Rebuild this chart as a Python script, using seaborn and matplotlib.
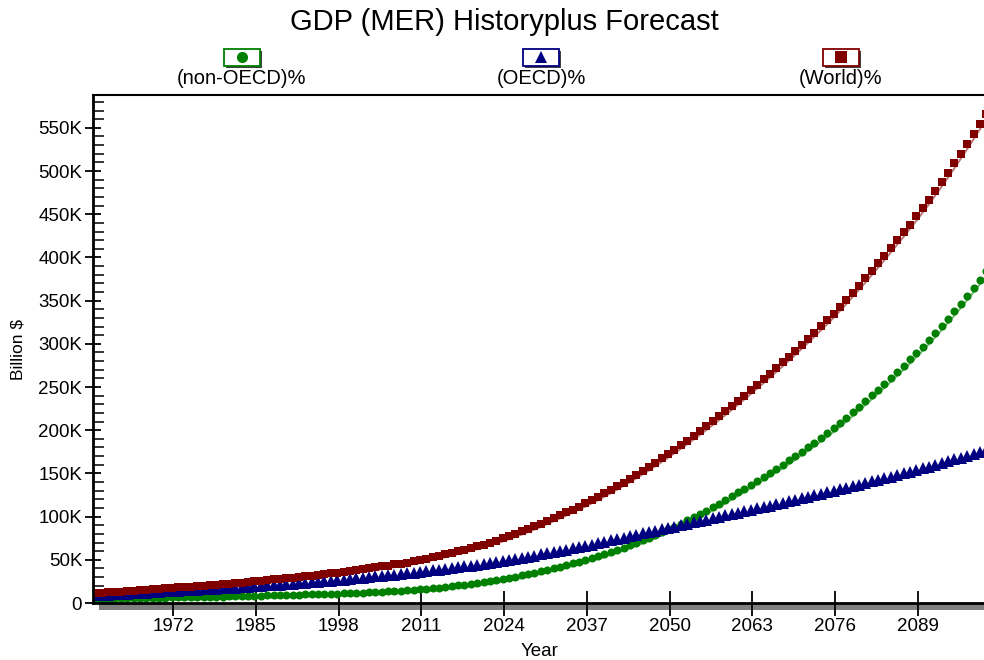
import pandas as pd
import matplotlib
matplotlib.use('Agg')
import matplotlib.pyplot as plt
import seaborn as sns
from matplotlib.patches import Rectangle
from matplotlib.lines import Line2D
from matplotlib.transforms import offset_copy
from matplotlib.ticker import FuncFormatter, MultipleLocator

# Years 1960..2100, one marker per year
years = list(range(1960, 2101))

# GDP (MER), billion $
non_oecd = [
    2.0, 2.1, 2.2, 2.3, 2.4, 2.5, 2.6, 2.7, 2.9, 3.0, 3.2, 3.3, 3.5,
    3.6, 3.8, 3.9, 4.0, 4.2, 4.3, 4.5, 4.6, 4.8, 4.9, 5.1, 5.3, 5.5,
    5.7, 5.9, 6.1, 6.3, 6.5, 6.6, 6.8, 7.0, 7.2, 7.4, 7.6, 7.8, 8.0,
    8.3, 8.6, 8.9, 9.2, 9.5, 9.9, 10.3, 10.7, 11.1, 11.5, 11.9, 12.4, 13.0,
    13.6, 14.3, 15.0, 15.8, 16.6, 17.4, 18.3, 19.2, 20.2, 21.2, 22.3, 23.5, 24.8,
    26.2, 27.6, 29.1, 30.6, 32.2, 33.9, 35.6, 37.4, 39.2, 41.1, 43.0, 45.0, 47.1,
    49.2, 51.4, 53.7, 56.1, 58.6, 61.2, 63.9, 66.7, 69.6, 72.6, 75.7, 78.9, 82.2,
    85.6, 89.1, 92.7, 96.4, 100.2, 104.1, 108.1, 112.2, 116.4, 120.7, 125.1, 129.6, 134.2,
    138.6, 143.1, 147.7, 152.4, 157.2, 162.1, 167.1, 172.2, 177.4, 182.7, 188.1, 193.6, 199.2,
    205.3, 211.5, 217.8, 224.2, 230.7, 237.3, 244.0, 250.8, 257.7, 264.7, 271.8, 279.0, 286.3,
    293.9, 301.7, 309.7, 317.9, 326.3, 334.9, 343.7, 352.7, 361.9, 371.3, 380.9,
]

oecd = [
    6.0, 6.4, 6.8, 7.2, 7.6, 8.0, 8.4, 8.8, 9.2, 9.6, 10.0, 10.5, 11.0,
    11.4, 11.7, 12.0, 12.4, 12.8, 13.2, 13.6, 14.0, 14.4, 14.8, 15.3, 15.8, 16.4,
    17.0, 17.5, 18.0, 18.5, 19.0, 19.5, 20.0, 20.6, 21.2, 21.8, 22.4, 23.0, 23.6,
    24.3, 25.0, 25.7, 26.4, 27.1, 27.8, 28.5, 29.2, 29.9, 30.6, 31.3, 32.2, 33.1,
    34.0, 34.9, 35.8, 36.7, 37.6, 38.5, 39.5, 40.5, 41.5, 42.5, 43.5, 44.6, 45.7,
    46.9, 48.1, 49.4, 50.7, 52.0, 53.4, 54.8, 56.2, 57.6, 59.0, 60.4, 61.8, 63.2,
    64.8, 66.4, 68.0, 69.6, 71.2, 72.8, 74.4, 76.0, 77.6, 79.2, 80.8, 82.4, 84.0,
    85.6, 87.2, 88.8, 90.4, 92.0, 93.6, 95.2, 96.8, 98.4, 100.0, 101.6, 103.2, 104.8,
    106.5, 108.2, 109.9, 111.6, 113.3, 115.0, 116.7, 118.4, 120.1, 121.8, 123.5, 125.2, 126.9,
    128.7, 130.5, 132.3, 134.1, 135.9, 137.8, 139.7, 141.6, 143.5, 145.4, 147.3, 149.2, 151.1,
    153.1, 155.1, 157.1, 159.1, 161.2, 163.3, 165.4, 167.5, 169.6, 171.7, 173.8,
]

world = [
    8.3, 8.8, 9.3, 9.8, 10.3, 10.8, 11.3, 11.8, 12.4, 12.9, 13.5, 14.1, 14.8,
    15.3, 15.8, 16.2, 16.7, 17.3, 17.8, 18.4, 18.9, 19.5, 20.0, 20.7, 21.5, 22.3,
    23.1, 23.8, 24.5, 25.2, 25.9, 26.5, 27.2, 28.0, 28.8, 29.6, 30.5, 31.3, 32.1,
    33.1, 34.1, 35.1, 36.1, 37.2, 38.3, 39.4, 40.5, 41.7, 42.8, 43.9, 45.3, 46.8,
    48.4, 50.0, 51.6, 53.4, 55.1, 56.9, 58.8, 60.7, 62.8, 64.8, 67.0, 69.3, 71.8,
    74.4, 77.1, 79.9, 82.8, 85.7, 88.9, 92.0, 95.3, 98.6, 101.9, 105.3, 108.8, 112.3,
    116.1, 120.0, 124.0, 128.0, 132.2, 136.5, 140.9, 145.4, 150.0, 154.7, 159.5, 164.4, 169.4,
    174.5, 179.7, 185.0, 190.4, 195.9, 201.5, 207.2, 213.0, 218.9, 224.9, 231.0, 237.2, 243.5,
    249.7, 256.0, 262.4, 268.9, 275.5, 282.2, 289.0, 295.9, 302.9, 310.0, 317.2, 324.5, 331.9,
    339.9, 348.0, 356.2, 364.5, 372.9, 381.5, 390.2, 399.0, 407.9, 416.9, 426.0, 435.2, 444.5,
    454.2, 464.1, 474.2, 484.5, 495.1, 505.9, 516.9, 528.1, 539.5, 551.1, 562.9,
]

series_names = ['(non-OECD)%', '(OECD)%', '(World)%']
series_colors = ['#008000', '#000080', '#800000']
series_markers = ['o', '^', 's']
marker_sizes = [5.8, 8, 6]
x_ticks = [1972, 1985, 1998, 2011, 2024, 2037, 2050, 2063, 2076, 2089]

df = pd.DataFrame({'Year': years, series_names[0]: non_oecd,
                   series_names[1]: oecd, series_names[2]: world})

sns.set_style('white')
plt.rcParams['font.family'] = ['Liberation Sans', 'DejaVu Sans']
plt.rcParams['text.color'] = 'black'
plt.rcParams['xtick.color'] = 'black'
plt.rcParams['ytick.color'] = 'black'
plt.rcParams['axes.labelcolor'] = 'black'

W, H = 984, 660
fig = plt.figure(figsize=(W / 100, H / 100), dpi=100)

def fx(px):
    return px / W

def fy(py):
    return 1 - py / H

ax = fig.add_axes([fx(93), fy(603), fx(984) - fx(93), fy(95) - fy(603)])

# markers sit a little up-left of the thin line in the original
marker_tr = offset_copy(ax.transData, fig=fig, x=-1.5, y=2.5, units='dots')

for name, color, mk, ms in zip(series_names, series_colors, series_markers, marker_sizes):
    sns.lineplot(data=df, x='Year', y=name, ax=ax, color=color, lw=1.4,
                 alpha=0.55, estimator=None)
    sns.lineplot(data=df, x='Year', y=name, ax=ax, color=color, lw=0,
                 marker=mk, markersize=ms, markeredgewidth=0, estimator=None,
                 transform=marker_tr)

ax.set_xlim(1959.4, 2099.4)
ax.set_ylim(0, 588)

# axis formatting
ax.set_xticks(x_ticks)
ax.yaxis.set_major_locator(MultipleLocator(50))
ax.yaxis.set_minor_locator(MultipleLocator(10))

def k_formatter(y, pos):
    return '0' if y == 0 else f'{y:.0f}K'

ax.yaxis.set_major_formatter(FuncFormatter(k_formatter))
ax.tick_params(axis='x', which='major', direction='inout', length=18, width=1.3,
               labelsize=13.5, pad=2, bottom=True, colors='black')
ax.tick_params(axis='y', which='major', direction='inout', length=11.5, width=1.3,
               labelsize=13.5, pad=2, left=True, colors='black')
ax.tick_params(axis='y', which='minor', direction='in', length=8, width=1.1, left=True,
               colors='black')

for side in ['left', 'bottom', 'top']:
    ax.spines[side].set_color('black')
ax.spines['left'].set_linewidth(2)
ax.spines['bottom'].set_linewidth(2)
ax.spines['top'].set_linewidth(1.5)
ax.spines['right'].set_visible(False)

ax.set_xlabel('')
ax.set_ylabel('')
fig.text(fx(18), fy(350), 'Billion $', rotation=90, ha='center', va='center',
         fontsize=12.5, color='black')
fig.text(fx(540), fy(651), 'Year', ha='center', va='center', fontsize=13.5, color='black')

# grey shadow under the x axis
fig.add_artist(Rectangle((fx(99), fy(610)), fx(984) - fx(99), fy(604) - fy(610),
                         transform=fig.transFigure, facecolor='#808080',
                         edgecolor='none', zorder=0))

# title
fig.text(fx(504), fy(22), 'GDP (MER) Historyplus Forecast', ha='center', va='center',
         fontsize=21, color='black')

# legend: boxed marker icon above each label
legend_x = [242, 541, 841]
for cx, name, color, mk in zip(legend_x, series_names, series_colors, series_markers):
    bw, bh = 36, 17
    fig.add_artist(Rectangle((fx(cx - bw / 2 + 2), fy(57 + bh / 2 + 2)), bw / W, bh / H,
                             transform=fig.transFigure, facecolor='#404040',
                             edgecolor='none'))
    fig.add_artist(Rectangle((fx(cx - bw / 2), fy(57 + bh / 2)), bw / W, bh / H,
                             transform=fig.transFigure, facecolor='white',
                             edgecolor=color, lw=1.3))
    fig.add_artist(Line2D([fx(cx)], [fy(57)], transform=fig.transFigure, marker=mk,
                          color=color, markersize=8, markeredgewidth=0, linestyle=''))
    fig.text(fx(cx), fy(79), name, ha='center', va='center', fontsize=14.5, color='black')

plt.savefig('out.png', dpi=100)
